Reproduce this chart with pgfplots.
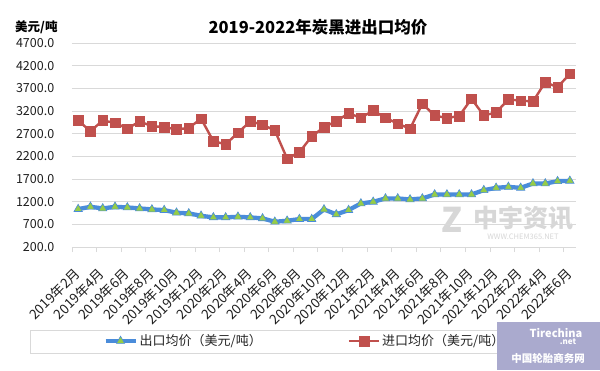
\documentclass[border=0pt]{standalone}
\usepackage{pgfplots}
\pgfplotsset{compat=1.18}
\usepackage{fontspec}
\setmainfont{Noto Sans CJK SC}
\definecolor{impred}{RGB}{192,80,77}
\definecolor{expblue}{RGB}{74,140,218}
\definecolor{expgreen}{RGB}{150,205,70}
\definecolor{gridgray}{RGB}{217,217,217}
\definecolor{wmgray}{RGB}{215,215,215}
\definecolor{tcbox}{RGB}{170,170,206}
\begin{document}
\begin{tikzpicture}
\path[use as bounding box, fill=white] (0pt,0pt) rectangle (600pt,370pt);
% watermark
\node[text=wmgray, font=\fontsize{34}{34}\selectfont\bfseries\itshape] at (452pt,150pt) {Z};
\node[text=wmgray, font=\fontsize{25}{25}\selectfont\bfseries] at (523pt,152pt) {中宇资讯};
\node[text=wmgray, font=\fontsize{7.5}{8}\selectfont] at (523pt,133pt) {WWW.CHEM365.NET};
\begin{axis}[
  at={(72pt,123pt)}, anchor=south west,
  scale only axis, width=504pt, height=204pt,
  xmin=-0.5, xmax=40.5, ymin=200, ymax=4700,
  ytick={200,700,...,4700},
  xtick={0,2,...,40},
  xticklabels={2019年2月,2019年4月,2019年6月,2019年8月,2019年10月,2019年12月,2020年2月,2020年4月,2020年6月,2020年8月,2020年10月,2020年12月,2021年2月,2021年4月,2021年6月,2021年8月,2021年10月,2021年12月,2022年2月,2022年4月,2022年6月},
  minor xtick={-0.5,1.5,...,39.5},
  xtick pos=bottom, ytick pos=left,
  major x tick style={draw=none},
  minor x tick style={draw=gridgray, line width=0.8pt},
  minor tick length=5pt,
  tick align=outside,
  ytick style={draw=none},
  ymajorgrids, major grid style={draw=gridgray, line width=0.8pt},
  axis line style={draw=none},
  /pgf/number format/assume math mode=true,
  ticklabel style={text=black!88},
  yticklabel style={font=\fontsize{12.5}{13}\selectfont, anchor=east, xshift=-10pt, /pgf/number format/fixed, /pgf/number format/fixed zerofill, /pgf/number format/precision=1, /pgf/number format/1000 sep={}},
  xticklabel style={font=\fontsize{13.5}{14}\selectfont, rotate=45, anchor=east, inner sep=1pt},
  xticklabel shift=19pt,
  clip=false,
  legend columns=2,
  legend style={draw=none, fill=none, at={(0.462,-0.461)}, anchor=center,
    font=\fontsize{13}{14}\selectfont, text=black!85,
    /tikz/every even column/.append style={column sep=84pt}},
  legend image code/.code={\draw[mark repeat=2,mark phase=2] plot coordinates {(0pt,0pt)(15pt,0pt)(30pt,0pt)};},
]
\addplot[color=expblue, line width=4.3pt, mark=triangle*, mark size=4.8pt,
  mark options={fill=expgreen, draw=expblue, line width=0.6pt}] coordinates {
(0,1036)(1,1087)(2,1051)(3,1087)(4,1073)(5,1051)(6,1029)(7,1014)(8,956)(9,941)
(10,889)(11,853)(12,853)(13,867)(14,853)(15,831)(16,757)(17,779)(18,816)(19,816)
(20,1029)(21,920)(22,1014)(23,1161)(24,1197)(25,1271)(26,1271)(27,1249)(28,1271)(29,1359)
(30,1359)(31,1359)(32,1359)(33,1454)(34,1505)(35,1526)(36,1505)(37,1601)(38,1601)(39,1651)
(40,1660)};
\addlegendentry{出口均价（美元/吨）}
\addplot[color=impred, line width=2.4pt, mark=square*, mark size=4.8pt,
  mark options={fill=impred, draw=impred, line width=0.5pt}] coordinates {
(0,2990)(1,2755)(2,2990)(3,2940)(4,2810)(5,2970)(6,2865)(7,2845)(8,2795)(9,2825)
(10,3030)(11,2535)(12,2465)(13,2720)(14,2970)(15,2900)(16,2770)(17,2150)(18,2290)(19,2640)
(20,2845)(21,2975)(22,3150)(23,3050)(24,3210)(25,3050)(26,2920)(27,2810)(28,3360)(29,3100)
(30,3045)(31,3090)(32,3470)(33,3100)(34,3170)(35,3455)(36,3430)(37,3410)(38,3835)(39,3725)
(40,4020)};
\addlegendentry{进口均价（美元/吨）}
\end{axis}
\draw[gridgray, line width=0.8pt] (30pt,17pt) rectangle (585pt,40pt);
\node[font=\fontsize{16.5}{17}\selectfont\bfseries] at (318pt,343pt) {2019-2022年炭黑进出口均价};
\node[anchor=west, font=\fontsize{12.5}{13}\selectfont\bfseries, inner sep=0pt] at (15pt,343pt) {美元/吨};
% Tirechina watermark box
\fill[tcbox] (497pt,0pt) rectangle (600pt,48pt);
\node[text=white, font=\fontsize{11}{11}\selectfont\bfseries\itshape] at (556pt,37pt) {Tirechina};
\node[text=white, font=\fontsize{8}{8}\selectfont\bfseries\itshape] at (568pt,28pt) {.net};
\node[text=white, font=\fontsize{10.5}{11}\selectfont\bfseries] at (548pt,12pt) {中国轮胎商务网};
\end{tikzpicture}
\end{document}
